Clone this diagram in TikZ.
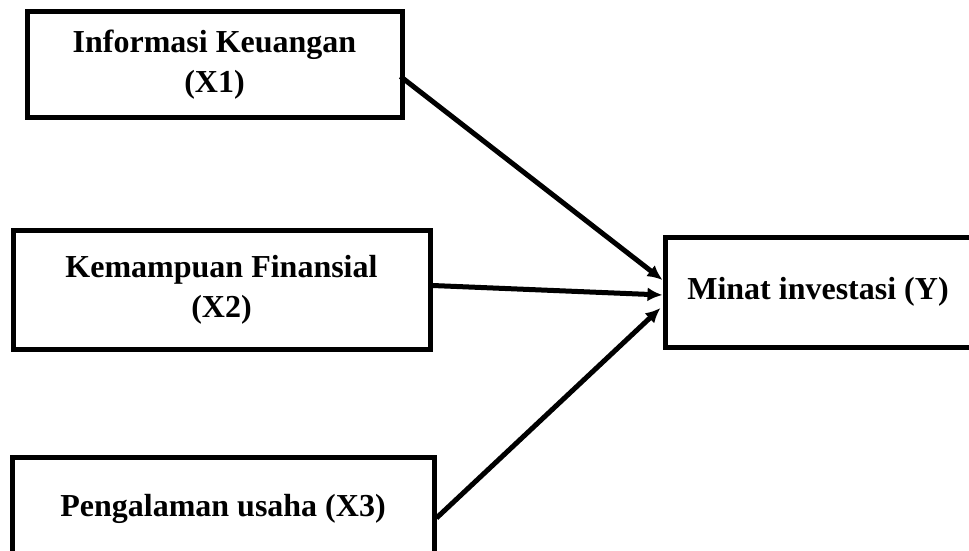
\documentclass[tikz,border=0pt]{standalone}
\usepackage{fontspec}
\setmainfont{Liberation Serif}
\usetikzlibrary{positioning,arrows.meta}

\begin{document}
\begin{tikzpicture}
  [x=1pt,y=-1pt,every node/.style={rectangle,draw,line width=5pt,align=center,inner sep=0pt,font=\fontsize{32}{40}\selectfont\bfseries},
   link/.style={line width=5pt,-{Latex[length=15pt,width=14pt]}}]
  \useasboundingbox (0,0) rectangle (969,551);
  \node[minimum width=375pt,minimum height=105pt] (info) at (214.5,64.5) {Informasi Keuangan\\(X1)};
  \node[minimum width=417pt,minimum height=119pt] (finan) at (221.5,289.5) {Kemampuan Finansial\\(X2)};
  \node[minimum width=422pt,minimum height=104pt] (usaha) at (223,509) {Pengalaman usaha (X3)};
  \node[minimum width=306pt,minimum height=110pt] (minat) at (818,292) {Minat investasi (Y)};

  \draw[link] ([xshift=-4pt,yshift=-12pt]info.east) -- ([yshift=12pt]minat.west);
  \draw[link] ([yshift=4pt]finan.east) -- ([yshift=-3pt]minat.west);
  \draw[link] ([yshift=-9pt]usaha.east) -- ([xshift=-2pt,yshift=-16pt]minat.west);
\end{tikzpicture}
\end{document}
